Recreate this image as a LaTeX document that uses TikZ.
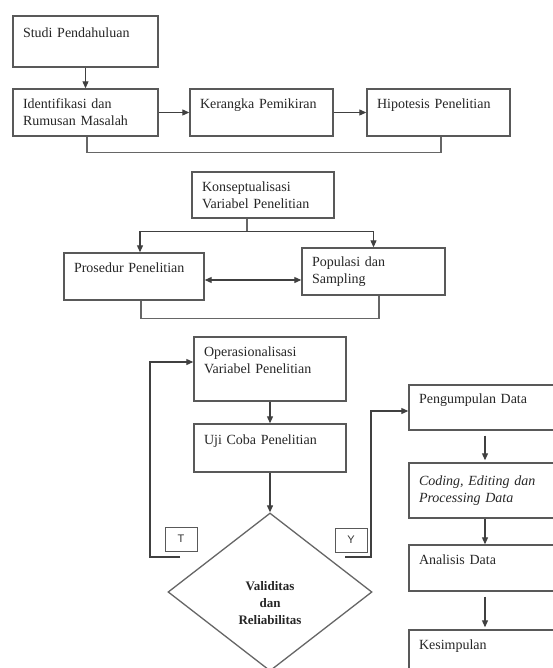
\documentclass[tikz,border=0pt]{standalone}
\usepackage{fontspec}
\setmainfont{Liberation Serif}
\setsansfont{Liberation Sans}
\usetikzlibrary{arrows.meta,shapes.geometric}

\tikzset{
  box/.style={draw=black!65,line width=1.4pt,align=left,inner xsep=10pt,inner ysep=0pt,
    font=\fontsize{14}{17}\selectfont,text=black!85},
  arr/.style={draw=black!75,line width=1.1pt,-{Triangle[length=7pt,width=6pt]}},
  dblarr/.style={draw=black!75,line width=1.1pt,{Triangle[length=7pt,width=6pt]}-{Triangle[length=7pt,width=6pt]}},
  ln/.style={draw=black!60,line width=1.3pt},
  tag/.style={draw=black!65,line width=1pt,minimum width=32pt,minimum height=24pt,
    font=\sffamily\fontsize{11}{13}\selectfont,text=black!80},
}

\begin{document}
\begin{tikzpicture}[x=1pt,y=-1pt]
\useasboundingbox (0,0) rectangle (553,668);
\fill [white] (0,0) rectangle (553,668);

\path
    (85.5,41.5) node [box,text width=125pt,minimum height=51pt] (studi) {Studi Pendahuluan\\ \mbox{}}
    (85.5,112.5) node [box,text width=125pt,minimum height=47pt] (ident) {Identifikasi dan\\ Rumusan Masalah}
    (261.5,112.5) node [box,text width=123pt,minimum height=47pt] (kerangka) {Kerangka Pemikiran\\ \mbox{}}
    (438.5,112.5) node [box,text width=123pt,minimum height=47pt] (hipo) {Hipotesis Penelitian\\ \mbox{}};
\draw [arr] (studi) -- (ident);
\draw [arr] (ident) -- (kerangka);
\draw [arr] (kerangka) -- (hipo);
\draw [ln] ([xshift=1.5pt]ident.south) -- ++(0,16) -| ([xshift=2.5pt]hipo.south);

\path
    (263,195) node [box,text width=122pt,minimum height=46pt] (konsep) {Konseptualisasi\\ Variabel Penelitian}
    (134,276.5) node [box,text width=120pt,minimum height=47pt] (prosedur) {Prosedur Penelitian\\ \mbox{}}
    (373.5,271.5) node [box,text width=123pt,minimum height=47pt] (populasi) {Populasi dan\\ Sampling};
\draw [ln] ([xshift=-16pt]konsep.south) -- ++(0,13) coordinate (cabang);
\draw [arr] (cabang) -| ([xshift=6pt]prosedur.north);
\draw [arr] (cabang) -| (populasi.north);
\draw [dblarr] ([yshift=-3.5pt]prosedur.east) -- ([yshift=-3.5pt]prosedur.east -| populasi.west);
\draw [ln] ([xshift=7pt]prosedur.south) -- ++(0,18) -| ([xshift=5.5pt]populasi.south);

\path
    (270,369) node [box,text width=132pt,minimum height=64pt] (operas) {Operasionalisasi\\ Variabel Penelitian\\ \mbox{}}
    (270,448) node [box,text width=132pt,minimum height=48pt] (uji) {Uji Coba Penelitian\\ \mbox{}}
    (485,407.5) node [box,text width=132pt,minimum height=45pt] (kumpul) {Pengumpulan Data\\ \mbox{}}
    (485,490.5) node [box,text width=132pt,minimum height=55pt] (coding) {\textit{Coding, Editing dan}\\ \textit{Processing Data}}
    (485,568) node [box,text width=132pt,minimum height=46pt] (analisis) {Analisis Data\\ \mbox{}}
    (485,653) node [box,text width=132pt,minimum height=46pt] (simpul) {Kesimpulan\\ \mbox{}};
\path
    (270,592) node [diamond,draw=black!60,line width=1.3pt,minimum width=204pt,minimum height=158pt,inner sep=0pt] (valid) {};
\node [font=\bfseries\fontsize{13}{17}\selectfont,align=center,text=black!85] (validtext) at ([yshift=-11pt]valid.center) {Validitas\\ dan\\ Reliabilitas};
\draw [arr] (operas) -- (uji);
\draw [arr] (uji) -- (valid);
\draw [arr,shorten <=5pt,shorten >=2pt] (kumpul) -- (coding);
\draw [arr] (coding) -- (analisis);
\draw [arr,shorten <=5pt,shorten >=2pt] (analisis) -- (simpul);

\path
    (181,539) node [tag] (tidak) {T}
    (351,540) node [tag] (ya) {Y};
\coordinate (tidakujung) at (180,557);
\coordinate (yaujung) at (345,557);
\draw [arr] (tidakujung) -- ++(-30,0) |- ([yshift=7pt]operas.west);
\draw [arr] (yaujung) -- ++(26,0) |- ([yshift=-3.5pt]kumpul.west);
\end{tikzpicture}
\end{document}
